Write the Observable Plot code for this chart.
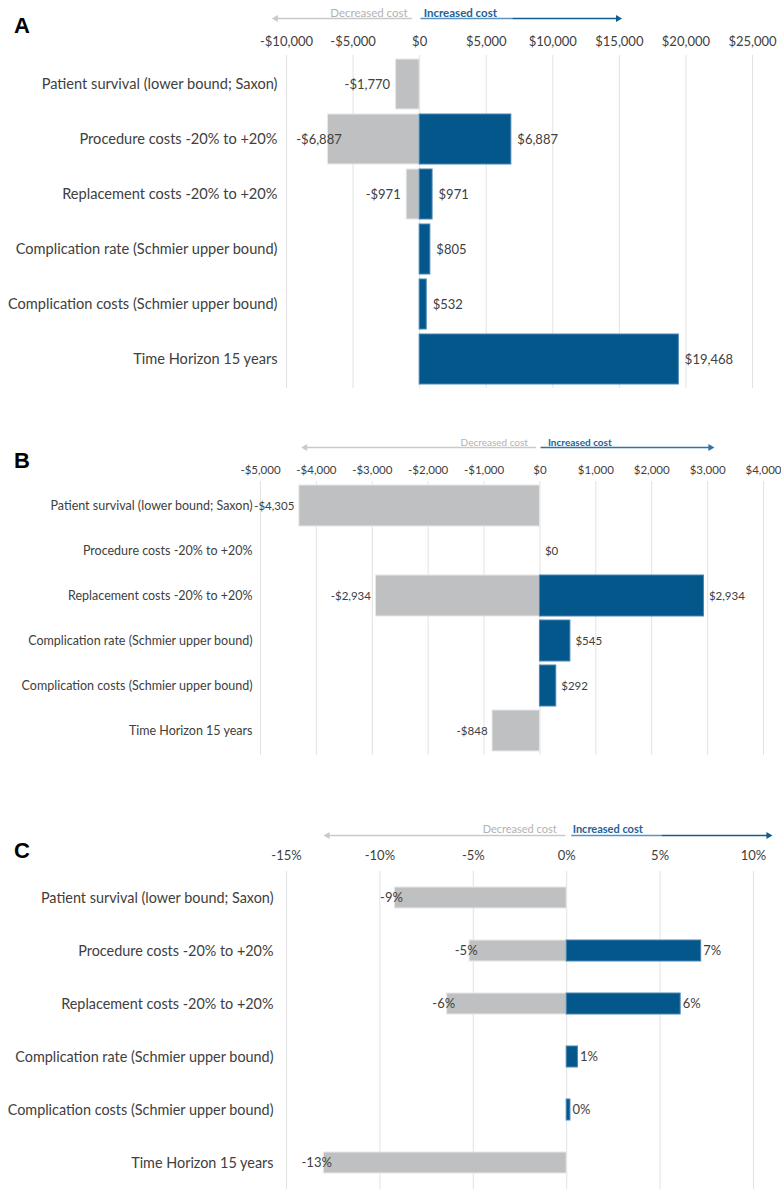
<!DOCTYPE html>
<html><head><meta charset="utf-8">
<script src="https://cdn.jsdelivr.net/npm/d3@7"></script>
<script src="https://cdn.jsdelivr.net/npm/@observablehq/plot@0.6"></script>
<style>
body{margin:0;background:#fff;}
#root{position:relative;width:781px;height:1189px;overflow:hidden;font-family:Lato,"Open Sans",sans-serif;}
.letter{position:absolute;left:14px;font:bold 22px "Liberation Sans",Arial,sans-serif;line-height:1;color:#000;}
.pos{position:absolute;left:0;}
svg.pA g[aria-label^="y-axis"] text{font-size:14.6px;}
svg.pB g[aria-label^="y-axis"] text{font-size:12.5px;}
svg.pC g[aria-label^="y-axis"] text{font-size:14.4px;}
</style></head><body><div id="root"></div>
<script>
// ---- data ----
const parameters = [
  "Patient survival (lower bound; Saxon)",
  "Procedure costs -20% to +20%",
  "Replacement costs -20% to +20%",
  "Complication rate (Schmier upper bound)",
  "Complication costs (Schmier upper bound)",
  "Time Horizon 15 years"
];
// Panel A: cost difference ($)
const lowA  = [-1770, -6887, -971, null, null, null];
const highA = [null, 6887, 971, 805, 532, 19468];
const ticksA = [-10000, -5000, 0, 5000, 10000, 15000, 20000, 25000];
// Panel B: cost difference ($)
const lowB  = [-4305, null, -2934, null, null, -848];
const highB = [null, 0, 2934, 545, 292, null];
const ticksB = [-5000, -4000, -3000, -2000, -1000, 0, 1000, 2000, 3000, 4000];
// Panel C: relative difference (%)
const lowC  = [-9.2, -5.2, -6.4, null, null, -13.0];
const highC = [null, 7.2, 6.1, 0.6, 0.2, null];
const ticksC = [-15, -10, -5, 0, 5, 10];
// legend arrows (data units): decreased [start, end]; increased [start, (shade change), end]
const arrowDecA = [-550, -10800], arrowIncA = [100, 7000, 14900];
const arrowDecB = [-60, -4200],   arrowIncB = [20, 3050];
const arrowDecC = [-0.05, -12.8], arrowIncC = [0.27, 5.1, 10.8];
const legendLabels = ["Decreased cost", "Increased cost"];

// ---- style ----
const GREY = "#bfc0c2", BLUE = "#03578a";
const TEXT = "#404040";
const dollar = v => (v < 0 ? "-" : "") + "$" + d3.format(",")(Math.abs(v));
const pct = v => { const r = Math.round(v); return (r < 0 ? "-" : "") + Math.abs(r) + "%"; };

const root = document.getElementById("root");

function panel(o) {
  const rows = parameters.flatMap((p, i) => [
    {param: p, value: o.low[i], side: "dec"},
    {param: p, value: o.high[i], side: "inc"}
  ]).filter(d => d.value != null);
  const lab = v => o.fmt(v);
  const decX = d => (o.minLabelX != null ? Math.max(d.value, o.minLabelX) : d.value);

  const x = {domain: [o.ticks[0], o.ticks[o.ticks.length - 1]]};
  const main = Plot.plot({
    width: 781, height: o.height,
    marginLeft: o.ml, marginRight: o.mr, marginTop: o.mt, marginBottom: o.mb,
    style: {fontFamily: "Lato, 'Open Sans', sans-serif", fontSize: o.fs + "px", color: TEXT, background: "transparent"},
    x: {...x, axis: "top", ticks: o.ticks, tickFormat: o.fmt, tickSize: 0, tickPadding: o.tp, label: null},
    y: {domain: parameters, paddingInner: o.pi, paddingOuter: o.po, tickSize: 0, tickPadding: o.lp, label: null},
    marks: [
      Plot.ruleX(o.ticks, {stroke: "#e2e2e2", strokeWidth: 1}),
      Plot.barX(rows.filter(d => d.side === "dec" && d.value !== 0), {y: "param", x1: () => 0, x2: "value", fill: GREY, stroke: "#e8e8e8", strokeWidth: 1}),
      Plot.barX(rows.filter(d => d.side === "inc" && d.value !== 0), {y: "param", x1: () => 0, x2: "value", fill: BLUE, stroke: "#4a86b3", strokeWidth: 1}),
      Plot.text(rows.filter(d => d.side === "dec"), {y: "param", x: decX, text: d => lab(d.value), textAnchor: "end", dx: o.dxDec, fill: TEXT}),
      Plot.text(rows.filter(d => d.side === "inc"), {y: "param", x: "value", text: d => lab(d.value), textAnchor: "start", dx: o.dxInc, fill: TEXT})
    ]
  });
  main.classList.add("pos", "p" + o.letter);
  main.style.top = o.mainTop + "px";

  // legend strip with same x scale
  const inc = o.arrowInc;
  const segs = inc.length === 3
    ? [{x1: inc[0], x2: inc[1], c: "#5e93bf"}, {x1: inc[1], x2: inc[2], c: "#0f5c8f"}]
    : [{x1: inc[0], x2: inc[1], c: "#2f74a8"}];
  const legend = Plot.plot({
    width: 781, height: o.legH,
    marginLeft: o.ml, marginRight: o.mr, marginTop: 0, marginBottom: 0,
    style: {fontFamily: "Lato, 'Open Sans', sans-serif", fontSize: o.lfs + "px", background: "transparent"},
    x: {...x, axis: null},
    y: {type: "point", domain: ["text", "arrow"], range: o.legY, axis: null},
    marks: [
      Plot.ruleY([o.arrowDec], {y: () => "arrow", x1: d => d[0], x2: d => d[1], stroke: "#c9c9c9", strokeWidth: 1.6}),
      Plot.dot([o.arrowDec], {y: () => "arrow", x: d => d[1], symbol: "triangle", r: 2.6, rotate: -90, fill: "#c9c9c9", stroke: "none"}),
      Plot.ruleY(segs, {y: () => "arrow", x1: "x1", x2: "x2", stroke: d => d.c, strokeWidth: 1.6}),
      Plot.dot([inc[inc.length - 1]], {y: () => "arrow", x: d => d, symbol: "triangle", r: 2.6, rotate: 90, fill: segs[segs.length - 1].c, stroke: "none"}),
      Plot.text([legendLabels[0]], {y: () => "text", x: () => 0, text: d => d, textAnchor: "end", dx: o.ldx[0], fill: "#b2b2b2"}),
      Plot.text([legendLabels[1]], {y: () => "text", x: () => 0, text: d => d, textAnchor: "start", dx: o.ldx[1], fill: "#1d6397", fontWeight: 700})
    ]
  });
  legend.classList.add("pos");
  legend.style.top = o.legTop + "px";

  const L = document.createElement("div");
  L.className = "letter";
  L.textContent = o.letter;
  L.style.top = o.letterTop + "px";
  root.append(legend, main, L);
}

panel({letter: "A", letterTop: 15, legTop: 0, legH: 28, legY: [10, 21], ldx: [-12, 4],
  arrowDec: arrowDecA, arrowInc: arrowIncA, lfs: 11.5,
  mainTop: 28, height: 367, mt: 27, mb: 7, ml: 286, mr: 29, pi: 0.1, po: 0.05,
  low: lowA, high: highA, ticks: ticksA, fmt: dollar, fs: 13, tp: 10, lp: 9, dxDec: -6, dxInc: 6, minLabelX: -5400});

panel({letter: "B", letterTop: 450, legTop: 428, legH: 28, legY: [11, 21], ldx: [-12, 8],
  arrowDec: arrowDecB, arrowInc: arrowIncB, lfs: 10,
  mainTop: 454, height: 306, mt: 27, mb: 5, ml: 260, mr: 18, pi: 0.1, po: 0.04,
  low: lowB, high: highB, ticks: ticksB, fmt: dollar, fs: 11.5, tp: 8, lp: 8, dxDec: -5, dxInc: 5});

panel({letter: "C", letterTop: 840, legTop: 815, legH: 28, legY: [11, 23], ldx: [-10, 6],
  arrowDec: arrowDecC, arrowInc: arrowIncC, lfs: 11,
  mainTop: 841, height: 348, mt: 30, mb: 0, ml: 286, mr: 28, pi: 0.6, po: 0.3,
  low: lowC, high: highC, ticks: ticksC, fmt: pct, fs: 13, tp: 12, lp: 13, dxDec: 8, dxInc: 2});
</script></body></html>
